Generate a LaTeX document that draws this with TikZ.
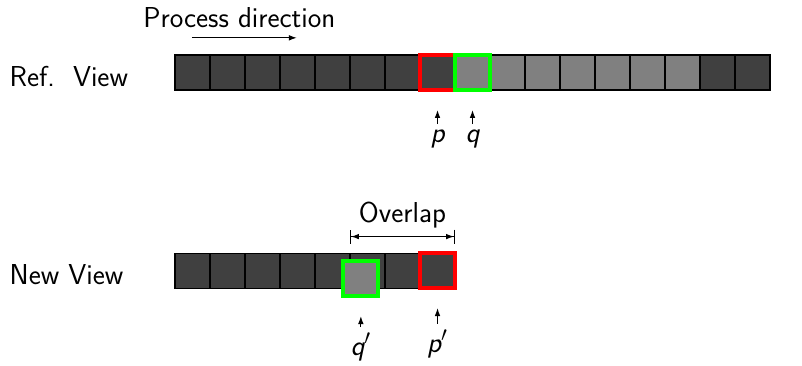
\documentclass[tikz,border=0pt]{standalone}
\usepackage{tikz}
\usetikzlibrary{arrows.meta,positioning,calc}
\definecolor{CellDark}{HTML}{404040}
\definecolor{CellGray}{HTML}{808080}
\definecolor{MarkRed}{HTML}{FF0000}
\definecolor{MarkGreen}{HTML}{00FF00}
\newcommand\viewfont{\fontsize{16.4}{19.5}\selectfont\sffamily}
\tikzset{
  cell/.style={draw=black,line width=.6pt,minimum size=7mm,inner sep=0pt,outer sep=0pt},
  pbox/.style={draw=MarkRed,line width=2.3pt,minimum size=7mm,inner sep=0pt},
  qbox/.style={draw=MarkGreen,line width=2.3pt,minimum size=7mm,inner sep=0pt,fill=CellGray},
  rowlab/.style={font=\viewfont,anchor=base west},
  tag/.style={font=\viewfont\itshape,anchor=base},
  flow/.style={-{Latex[length=4.5pt,width=3.2pt]},line width=.6pt},
  ptr/.style={flow,shorten >=3.6mm},
  dimline/.style={{Bar[width=8pt]Latex[length=4.5pt,width=3.2pt]}-{Latex[length=4.5pt,width=3.2pt]Bar[width=8pt]},line width=.6pt}
}
\begin{document}
\begin{tikzpicture}[x=7mm,y=7mm]
\useasboundingbox (-5,1.571) rectangle (17.914,-8.886);

% Process direction
\node[font=\viewfont] (dir) at (1.84,1.06) {Process direction};
\coordinate (dirA) at (.48,.49);
\coordinate (dirB) at (3.48,.49);
\draw[flow] (dirA) -- (dirB);

% Ref. view
\node[rowlab] (refl) at (-4.9,-.905) {Ref.\ \ View};
\foreach \i/\c in {0/CellDark,1/CellDark,2/CellDark,3/CellDark,4/CellDark,5/CellDark,
6/CellDark,7/CellDark,8/CellGray,9/CellGray,10/CellGray,11/CellGray,12/CellGray,
13/CellGray,14/CellGray,15/CellDark,16/CellDark}
  {\node[cell,fill=\c] (r\i) at (\i+.5,-.5) {};}
\node[pbox] (rp) at (r7) {};
\node[qbox] (rq) at (r8) {};
\node[tag] (lp) at (7.5,-2.51) {p};
\node[tag] (lq) at (8.5,-2.51) {q};

% New view
\node[rowlab] (newl) at (-4.9,-6.57) {New View};
\foreach \i in {0,...,7}
  {\node[cell,fill=CellDark] (n\i) at (\i+.5,-6.16) {};}
\node[pbox] (np) at (n7) {};
\node[qbox] (nq) at ($(n5)+(-.19,-.23)$) {};
\node[tag] (lq2) at (5.31,-8.6) {q$'$};
\node[tag] (lp2) at (7.5,-8.5) {p$'$};

% Overlap
\draw[dimline] ([yshift=3.3mm]n5.north west) -- node[above=1pt,font=\viewfont] (ovl) {Overlap} ([yshift=3.3mm]n7.north east);

% Pfeile
\foreach \a/\b in {lp/rp,lq/rq,lq2/nq,lp2/np}
  \draw[ptr] (\a.north) -- (\b.south);
\end{tikzpicture}
\end{document}
